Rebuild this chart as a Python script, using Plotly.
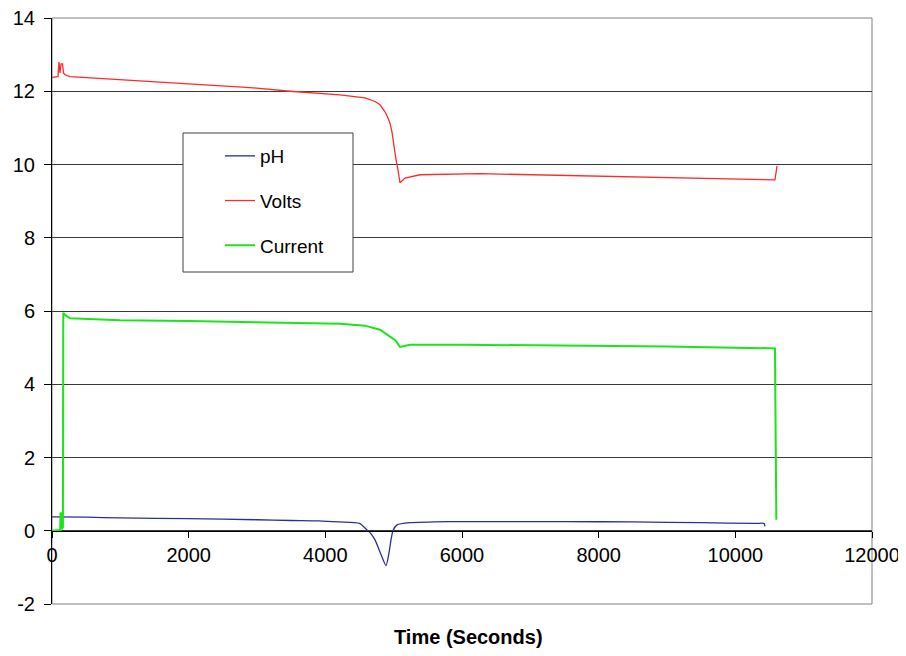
import plotly.graph_objects as go

# ---- data ----
ph_t = [0, 500, 1000, 2000, 3000, 3500, 3900, 4200, 4500, 4610, 4654, 4727, 4815, 4888, 4932, 4961, 4990,
        5049, 5240, 5800, 6500, 7500, 8500, 9500, 10300, 10420, 10434]
ph_v = [0.38, 0.37, 0.35, 0.33, 0.30, 0.28, 0.27, 0.24, 0.20, 0.02, -0.05, -0.25, -0.65, -0.95, -0.60, -0.25, 0.0,
        0.16, 0.22, 0.25, 0.25, 0.25, 0.24, 0.22, 0.20, 0.20, 0.12]

volts_t = [0, 88, 102, 117, 132, 154, 168, 190, 263, 702, 1434, 2166, 2898, 3483, 4068, 4215, 4580,
           4727, 4800, 4873, 4917, 4946, 4975, 5005, 5034, 5063, 5078, 5093, 5166, 5385, 6263, 8020,
           9483, 10580, 10610]
volts_v = [12.38, 12.40, 12.80, 12.50, 12.75, 12.75, 12.50, 12.45, 12.40, 12.35, 12.27, 12.18, 12.10,
           12.00, 11.93, 11.90, 11.82, 11.72, 11.63, 11.44, 11.27, 11.13, 10.89, 10.48, 10.13, 9.85,
           9.69, 9.50, 9.63, 9.72, 9.75, 9.68, 9.62, 9.58, 9.96]

cur_t = [0, 120, 125, 135, 140, 160, 165, 200, 263, 500, 1000, 2000, 3000, 3500, 4000, 4215, 4580,
         4800, 4946, 5020, 5093, 5240, 6000, 7000, 8000, 9000, 10000, 10580, 10600]
cur_v = [0.0, 0.02, 0.50, 0.45, 0.05, 0.10, 5.95, 5.88, 5.80, 5.78, 5.75, 5.73, 5.70, 5.68, 5.67,
         5.65, 5.60, 5.49, 5.30, 5.21, 5.02, 5.08, 5.08, 5.07, 5.05, 5.03, 5.00, 4.98, 0.30]

x_ticks = [0, 2000, 4000, 6000, 8000, 10000, 12000]
y_ticks = [-2, 0, 2, 4, 6, 8, 10, 12, 14]

FONT = "Liberation Sans, Arial, sans-serif"

fig = go.Figure()
fig.add_trace(go.Scatter(x=ph_t, y=ph_v, mode="lines", name="pH", legendgroup="a",
                         line=dict(color="#2e2e96", width=1.3, shape="spline", smoothing=0.6)))
fig.add_trace(go.Scatter(x=volts_t, y=volts_v, mode="lines", name="Volts", legendgroup="b",
                         line=dict(color="#ff2a2a", width=1.3)))
fig.add_trace(go.Scatter(x=cur_t, y=cur_v, mode="lines", name="Current", legendgroup="c",
                         line=dict(color="#19e619", width=2)))

# page body has an 8px margin, so the figure is placed at (8, 8) in the window
OFF = 8
W, H = 906 - OFF, 656 - OFF
PL, PT, PR, PB = 52, 18, 872, 604          # plot area in window pixels
L, T = PL - OFF, PT - OFF
R, B = W + OFF - PR, H + OFF - PB
pw, ph = PR - PL, PB - PT

def px(x):
    return (x - PL) / pw

def py(y):
    return (PB - y) / ph

fig.update_layout(
    width=W, height=H,
    margin=dict(l=L, r=R, t=T, b=B, autoexpand=False),
    paper_bgcolor="white", plot_bgcolor="white",
    font=dict(family=FONT, size=20, color="black"),
    showlegend=True,
    legend=dict(x=px(220), y=py(137), xanchor="left", yanchor="top",
                bgcolor="rgba(0,0,0,0)", borderwidth=0,
                font=dict(family=FONT, size=19, color="black"),
                traceorder="grouped", tracegroupgap=17),
    xaxis=dict(range=[0, 12000], tickvals=x_ticks, ticktext=[str(v) for v in x_ticks],
               showgrid=False, zeroline=False, showline=True, linecolor="black", linewidth=1,
               ticks="outside", ticklen=6, tickcolor="black", anchor="free", position=py(531),
               ticklabelstandoff=0, ticklabeloverflow="allow",
               tickfont=dict(family=FONT, size=20, color="black")),
    yaxis=dict(range=[-2, 14], tickvals=y_ticks, ticktext=[str(v) for v in y_ticks],
               showgrid=True, gridcolor="#3a3a3a", gridwidth=1, zeroline=False,
               showline=True, linecolor="black", linewidth=1,
               ticks="outside", ticklen=7, tickcolor="black", ticklabelstandoff=5,
               ticklabeloverflow="allow",
               tickfont=dict(family=FONT, size=20, color="black")),
    shapes=[
        dict(type="rect", xref="paper", yref="paper", x0=0, x1=1, y0=0, y1=1,
             line=dict(color="#808080", width=1), layer="below"),
        dict(type="rect", xref="paper", yref="paper", x0=px(183), x1=px(353), y0=py(272), y1=py(133),
             line=dict(color="#404040", width=1), fillcolor="white", layer="above"),
    ],
    annotations=[
        dict(text="<b>Time (Seconds)</b>", xref="paper", yref="paper", x=px(468), y=py(637),
             xanchor="center", yanchor="middle", showarrow=False,
             font=dict(family=FONT, size=20, color="black")),
    ],
)

fig.write_html("out.html")
